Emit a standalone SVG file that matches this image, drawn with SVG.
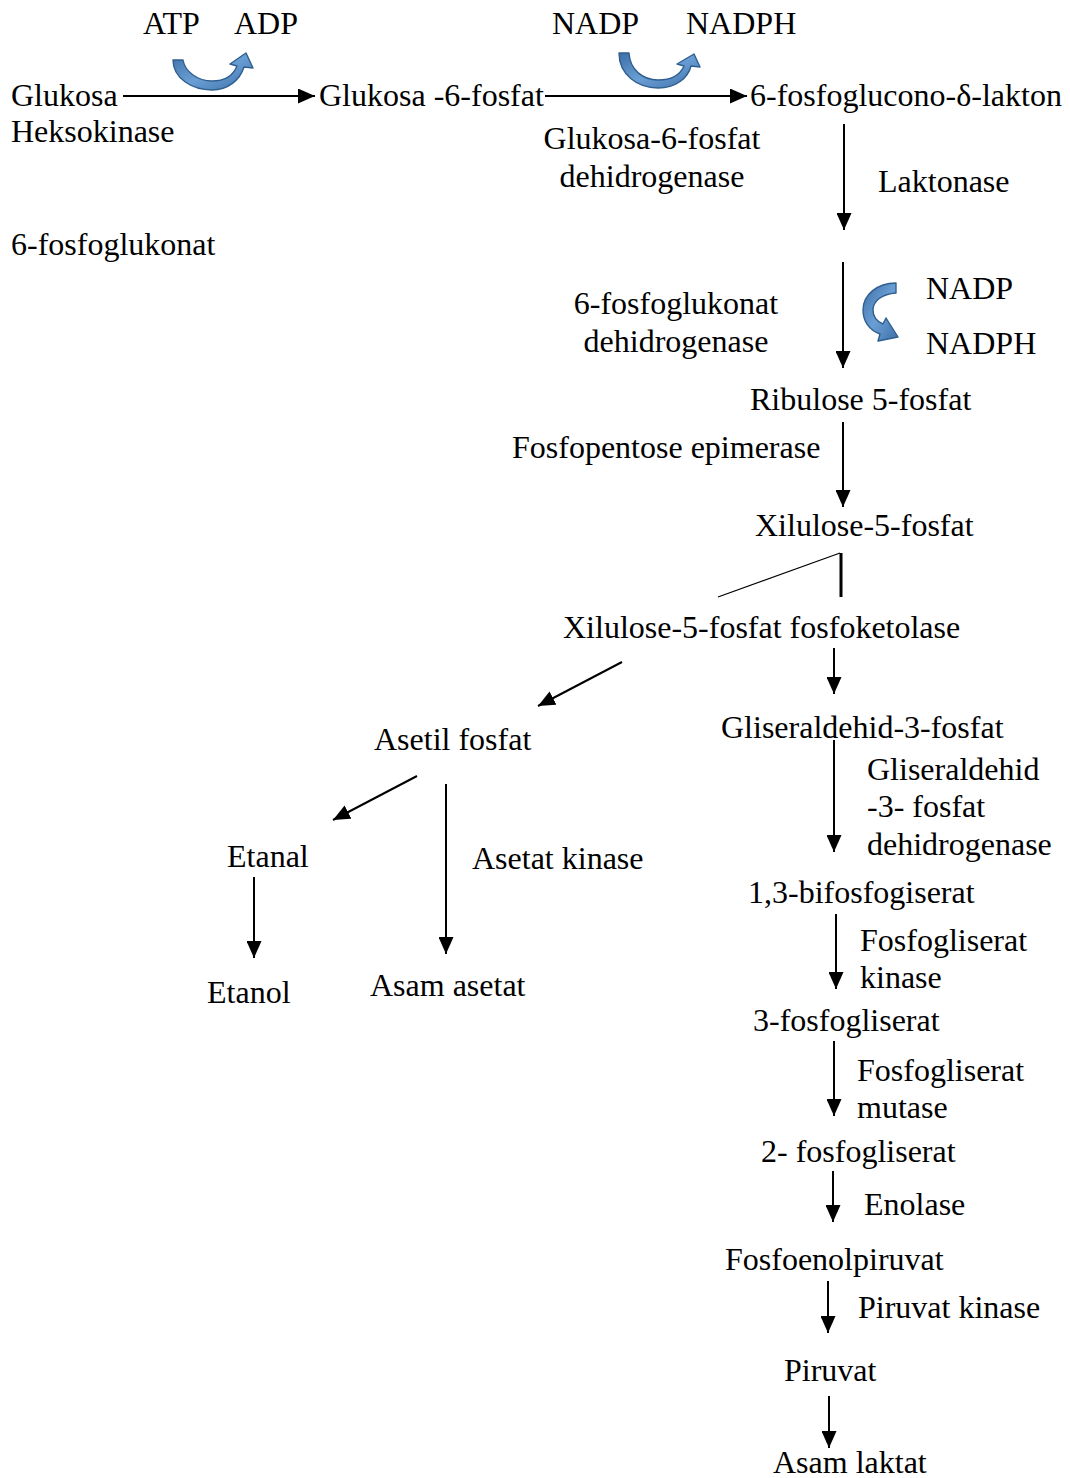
<svg xmlns="http://www.w3.org/2000/svg" width="1070" height="1478" viewBox="0 0 1070 1478">
  <style>
    text { font-family: "Liberation Serif", "Times New Roman", serif; font-size: 32px; fill: #000; }
    .flow { stroke: #000; stroke-width: 2; fill: none; }
    .cofactor { fill: url(#blueArc); stroke: #2f5f8f; stroke-width: 1.4; stroke-linejoin: round; }
  </style>
  <defs>
    <marker id="head" markerUnits="userSpaceOnUse" markerWidth="17" markerHeight="15" refX="17" refY="7.5" orient="auto">
      <path d="M0,0 L17,7.5 L0,15 Z" fill="#000"/>
    </marker>
    <linearGradient id="blueArc" x1="0" y1="0" x2="1" y2="1">
      <stop offset="0" stop-color="#3d6fa6"/>
      <stop offset="0.5" stop-color="#6a9fd6"/>
      <stop offset="1" stop-color="#3d6fa6"/>
    </linearGradient>
  </defs>

  <!-- reaction arrows -->
  <g id="connectors">
    <line class="flow" x1="123" y1="96" x2="315" y2="96" marker-end="url(#head)"/>
    <line class="flow" x1="545" y1="96" x2="747" y2="96" marker-end="url(#head)"/>
    <line class="flow" x1="844" y1="124" x2="844" y2="230" marker-end="url(#head)"/>
    <line class="flow" x1="843" y1="262" x2="843" y2="368" marker-end="url(#head)"/>
    <line class="flow" x1="843" y1="422" x2="843" y2="507" marker-end="url(#head)"/>
    <line x1="840" y1="553" x2="718" y2="597" stroke="#000" stroke-width="1.2"/>
    <line x1="841" y1="553" x2="841" y2="597" stroke="#000" stroke-width="3"/>
    <line class="flow" x1="834" y1="648" x2="834" y2="694" marker-end="url(#head)"/>
    <line class="flow" x1="622" y1="662" x2="538" y2="706" marker-end="url(#head)"/>
    <line class="flow" x1="834" y1="740" x2="834" y2="852" marker-end="url(#head)"/>
    <line class="flow" x1="417" y1="776" x2="333" y2="820" marker-end="url(#head)"/>
    <line class="flow" x1="446" y1="784" x2="446" y2="954" marker-end="url(#head)"/>
    <line class="flow" x1="254" y1="877" x2="254" y2="958" marker-end="url(#head)"/>
    <line class="flow" x1="836" y1="914" x2="836" y2="989" marker-end="url(#head)"/>
    <line class="flow" x1="834" y1="1041" x2="834" y2="1116" marker-end="url(#head)"/>
    <line class="flow" x1="833" y1="1171" x2="833" y2="1222" marker-end="url(#head)"/>
    <line class="flow" x1="828" y1="1281" x2="828" y2="1333" marker-end="url(#head)"/>
    <line class="flow" x1="829" y1="1396" x2="829" y2="1448" marker-end="url(#head)"/>
  </g>

  <!-- cofactor curved arrows -->
  <g id="cofactor-atp">
    <path class="cofactor" d="M173,60 C173,78 192,90 212,90 C228,90 240,80 244,67 L253,68 L246,53 L230,64 L237,66 C233,76 224,81 212,81 C198,81 185,72 183,60 Z"/>
    <text x="143" y="34">ATP</text>
    <text x="234" y="34">ADP</text>
  </g>
  <g id="cofactor-nadp-1">
    <path class="cofactor" d="M619,53 C619,75 638,88 658,88 C676,88 688,78 691,66 L700,67 L694,54 L677,64 L684,66 C680,75 671,80 658,80 C643,80 630,70 629,53 Z"/>
    <text x="552" y="34">NADP</text>
    <text x="686" y="34">NADPH</text>
  </g>
  <g id="cofactor-nadp-2">
    <path class="cofactor" d="M896,283 L896,293 C882,294 873,301 873,310 C873,316 876,321 883,324 L886,318 L898,337 L878,341 L880,334 C869,330 863,321 863,310 C863,295 877,283 896,283 Z"/>
    <text x="926" y="299">NADP</text>
    <text x="926" y="354">NADPH</text>
  </g>

  <!-- metabolites -->
  <g id="glukosa"><text x="11" y="106">Glukosa</text></g>
  <g id="glukosa-6-fosfat"><text x="319" y="106">Glukosa -6-fosfat</text></g>
  <g id="fosfoglucono-lakton"><text x="750" y="106">6-fosfoglucono-δ-lakton</text></g>
  <g id="fosfoglukonat"><text x="11" y="255">6-fosfoglukonat</text></g>
  <g id="ribulose"><text x="750" y="410">Ribulose 5-fosfat</text></g>
  <g id="xilulose"><text x="755" y="536">Xilulose-5-fosfat</text></g>
  <g id="asetil-fosfat"><text x="374" y="750">Asetil fosfat</text></g>
  <g id="gliseraldehid"><text x="721" y="738">Gliseraldehid-3-fosfat</text></g>
  <g id="etanal"><text x="227" y="867">Etanal</text></g>
  <g id="etanol"><text x="207" y="1003">Etanol</text></g>
  <g id="asam-asetat"><text x="370" y="996">Asam asetat</text></g>
  <g id="bifosfogliserat"><text x="748" y="903">1,3-bifosfogiserat</text></g>
  <g id="fosfogliserat-3"><text x="753" y="1031">3-fosfogliserat</text></g>
  <g id="fosfogliserat-2"><text x="761" y="1162">2- fosfogliserat</text></g>
  <g id="fosfoenolpiruvat"><text x="725" y="1270">Fosfoenolpiruvat</text></g>
  <g id="piruvat"><text x="784" y="1381">Piruvat</text></g>
  <g id="asam-laktat"><text x="773" y="1473">Asam laktat</text></g>

  <!-- enzymes -->
  <g id="heksokinase"><text x="11" y="142">Heksokinase</text></g>
  <g id="g6pd">
    <text x="652" y="149" text-anchor="middle">Glukosa-6-fosfat</text>
    <text x="652" y="187" text-anchor="middle">dehidrogenase</text>
  </g>
  <g id="laktonase"><text x="878" y="192">Laktonase</text></g>
  <g id="pgd">
    <text x="676" y="314" text-anchor="middle">6-fosfoglukonat</text>
    <text x="676" y="352" text-anchor="middle">dehidrogenase</text>
  </g>
  <g id="epimerase"><text x="512" y="458">Fosfopentose epimerase</text></g>
  <g id="fosfoketolase"><text x="563" y="638">Xilulose-5-fosfat fosfoketolase</text></g>
  <g id="gapdh">
    <text x="867" y="780">Gliseraldehid</text>
    <text x="867" y="817">-3- fosfat</text>
    <text x="867" y="855">dehidrogenase</text>
  </g>
  <g id="asetat-kinase"><text x="472" y="869">Asetat kinase</text></g>
  <g id="pgk">
    <text x="860" y="951">Fosfogliserat</text>
    <text x="860" y="988">kinase</text>
  </g>
  <g id="pgm">
    <text x="857" y="1081">Fosfogliserat</text>
    <text x="857" y="1118">mutase</text>
  </g>
  <g id="enolase"><text x="864" y="1215">Enolase</text></g>
  <g id="piruvat-kinase"><text x="858" y="1318">Piruvat kinase</text></g>
</svg>
